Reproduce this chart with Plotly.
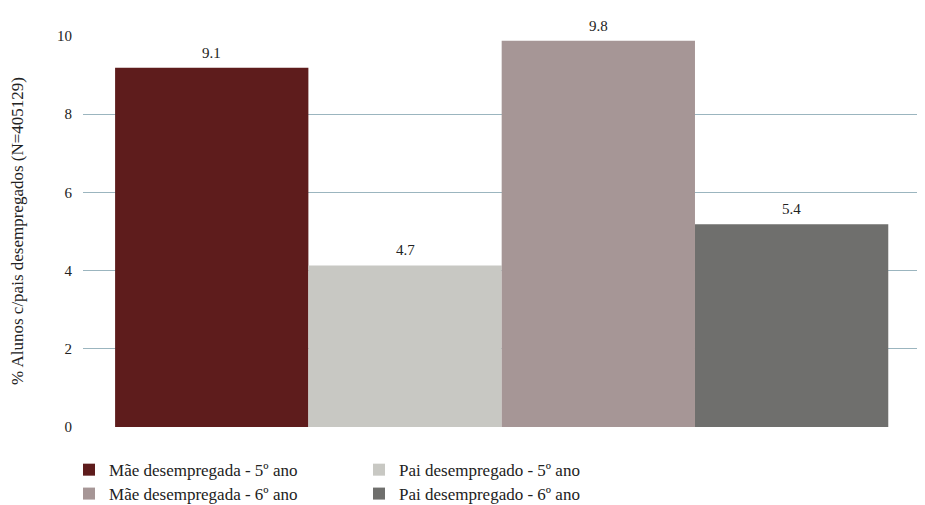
import plotly.graph_objects as go

series_names = ["Mãe desempregada - 5º ano", "Pai desempregado - 5º ano",
                "Mãe desempregada - 6º ano", "Pai desempregado - 6º ano"]
bar_heights = [9.18, 4.13, 9.87, 5.18]
bar_labels = ["9.1", "4.7", "9.8", "5.4"]
colors = ["#5e1c1c", "#c8c8c3", "#a69696", "#6f6f6d"]
legend_ids = ["legend", "legend", "legend2", "legend2"]
y_ticks = [0, 2, 4, 6, 8, 10]

FONT = "Liberation Serif"

fig = go.Figure()
for i, (name, h, lab, c, lg) in enumerate(zip(series_names, bar_heights, bar_labels, colors, legend_ids)):
    fig.add_trace(go.Bar(
        x=[i], y=[h], name=name, marker=dict(color=c, line=dict(width=0)),
        width=1, legend=lg, hoverinfo="y",
    ))
    fig.add_annotation(x=i, y=h, text=lab, showarrow=False, yanchor="middle",
                       yshift=15, font=dict(family=FONT, size=15, color="#222"))

legend_common = dict(orientation="h", xanchor="left", yanchor="middle",
                     font=dict(family=FONT, size=17, color="#222"),
                     entrywidth=245, bgcolor="rgba(0,0,0,0)", itemwidth=30,
                     tracegroupgap=0)
# page body has an 8px default margin, so the figure is sized 8px smaller
fig.update_layout(
    width=917, height=497,
    margin=dict(l=75, r=0, t=27, b=78, autoexpand=False),
    paper_bgcolor="white", plot_bgcolor="white",
    barmode="overlay",
    showlegend=True,
    legend=dict(x=-0.0166, y=-0.110, **legend_common),
    legend2=dict(x=-0.0166, y=-0.171, **legend_common),
    xaxis=dict(range=[-0.666, 3.69], showticklabels=False, showgrid=False,
               zeroline=False, showline=False, ticks="", automargin=False),
    yaxis=dict(range=[0, 10.02], tickvals=y_ticks, ticktext=[str(v) for v in y_ticks],
               showgrid=True, gridcolor="#9bb5bf", gridwidth=1, zeroline=False,
               showline=False, ticks="", ticklabelstandoff=10, automargin=False,
               tickfont=dict(family=FONT, size=15, color="#222"),
               title=dict(text="% Alunos c/pais desempregados (N=405129)",
                          font=dict(family=FONT, size=17, color="#222"), standoff=32)),
)
fig.write_html("out.html")
